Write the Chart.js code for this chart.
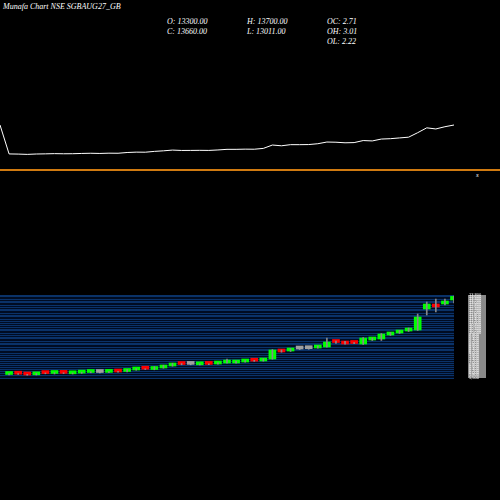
<!DOCTYPE html>
<html>
<head>
<script src="https://cdn.jsdelivr.net/npm/chart.js@4"></script>
<style>
  body { margin: 0; background: #000; width: 500px; height: 500px; overflow: hidden; position: relative; }
  .t { position: absolute; color: #fff; font: italic 8px "Liberation Serif", serif; white-space: nowrap; }
  #orange { position: absolute; left: 0; top: 169px; width: 500px; height: 2px; background: #d07a10; }
  #top { position: absolute; left: 0; top: 100px; }
  #bot { position: absolute; left: 0; top: 290px; }
</style>
</head>
<body>
<div class="t" style="left:3px;top:2px">Munafa Chart NSE SGBAUG27_GB</div>
<div class="t" style="left:167px;top:17px">O: 13300.00</div>
<div class="t" style="left:167px;top:27px">C: 13660.00</div>
<div class="t" style="left:247px;top:17px">H: 13700.00</div>
<div class="t" style="left:247px;top:27px">L: 13011.00</div>
<div class="t" style="left:327px;top:17px">OC: 2.71</div>
<div class="t" style="left:327px;top:27px">OH: 3.01</div>
<div class="t" style="left:327px;top:37px">OL: 2.22</div>
<div id="orange"></div>
<div class="t" style="left:476px;top:171px;font-size:7px">s</div>
<canvas id="top" width="500" height="72"></canvas>
<canvas id="bot" width="500" height="92"></canvas>
<script>
// daily candles, oldest first
const opens  = [5850,5920,5850,5820,5980,5950,6000,5920,5990,6050,6050,6060,6150,6150,6300,6400,6350,6500,6700,6900,6860,6820,6900,6900,7000,7000,7100,7250,7200,7400,8200,8200,8400,8430,8500,8600,9100,9150,9000,8900,9300,9400,9800,10000,10200,10300,12400,12900,12900,13300];
const closes = [5920,5880,5800,5900,5940,6000,5960,5980,6050,6100,6050,6120,6100,6300,6400,6380,6600,6750,6950,6850,6860,6880,6860,6980,7150,7150,7200,7180,7400,8300,8100,8400,8400,8430,8650,9100,9050,8900,8950,9500,9400,9900,10000,10200,10400,11600,12900,12600,13200,13660];
const highs  = [5950,5940,5870,5950,6000,6030,6020,6000,6080,6130,6150,6150,6170,6330,6430,6420,6630,6780,6980,6950,6980,6920,6920,7020,7400,7180,7230,7270,7430,8350,8300,8450,8500,8500,8700,9500,9200,9170,9050,9550,9500,9950,10050,10250,10500,11900,13100,13400,13400,13700];
const lows   = [5800,5860,5780,5800,5920,5900,5940,5900,5960,6020,6000,6040,6080,6120,6280,6350,6320,6480,6680,6820,6820,6800,6840,6880,6980,6980,7080,7160,7180,7380,8080,8150,8350,8380,8480,8580,8950,8880,8930,8850,9250,9250,9750,9950,10150,10250,11800,12100,12800,13011];
const lineLead = 13660;  // first point of the top panel line
const labels = ['', ...closes.map((_, i) => 'D' + (i + 1))];

const green = '#00ff00', red = '#ff0000', grey = '#a0a0a0';
const colors = opens.map((o, i) => closes[i] > o ? green : closes[i] < o ? red : grey);

Chart.defaults.animation = false;
Chart.defaults.plugins.legend.display = false;
Chart.defaults.plugins.tooltip.enabled = false;

new Chart(document.getElementById('top'), {
  type: 'line',
  data: { labels, datasets: [{ data: [lineLead, ...closes], borderColor: '#ffffff', borderWidth: 1, pointRadius: 0, tension: 0 }] },
  options: {
    responsive: false,
    layout: { padding: { right: 46, top: 0, bottom: 2 } },
    scales: {
      x: { display: false, offset: false },
      y: { display: false, min: 1620, max: 20350 }
    }
  }
});

const bgPlugin = {
  id: 'bg',
  beforeDraw(c) {
    const a = c.chartArea, ctx = c.ctx;
    ctx.save();
    ctx.fillStyle = '#000c22';
    ctx.fillRect(a.left, a.top, a.right - a.left, a.bottom - a.top);
    ctx.fillStyle = '#8a8a8a';
    ctx.fillRect(a.right + 14, a.top, 18, a.bottom - a.top);
    ctx.restore();
  }
};

new Chart(document.getElementById('bot'), {
  type: 'bar',
  data: {
    labels,
    datasets: [
      { data: [null, ...lows.map((l, i) => [l, highs[i]])], backgroundColor: [null, ...colors.map(c => c === grey ? grey : '#888888')], barThickness: 1, grouped: false },
      { data: [null, ...opens.map((o, i) => [o, closes[i]])], backgroundColor: [null, ...colors], barThickness: 7, minBarLength: 3, grouped: false }
    ]
  },
  plugins: [bgPlugin],
  options: {
    responsive: false,
    layout: { padding: { top: 5, bottom: 4, left: 0, right: 0 } },
    scales: {
      x: { display: false, offset: false },
      y: {
        position: 'right', min: 5500, max: 13800,
        afterFit(s) { s.width = 46; s.paddingTop = 0; s.paddingBottom = 0; },
        grid: { color: '#0a3268', lineWidth: 1, drawTicks: false },
        border: { display: false },
        ticks: { stepSize: 200, autoSkip: false, color: '#ffffff', font: { size: 4, lineHeight: 1 }, padding: 15 }
      }
    }
  }
});
</script>
</body>
</html>
